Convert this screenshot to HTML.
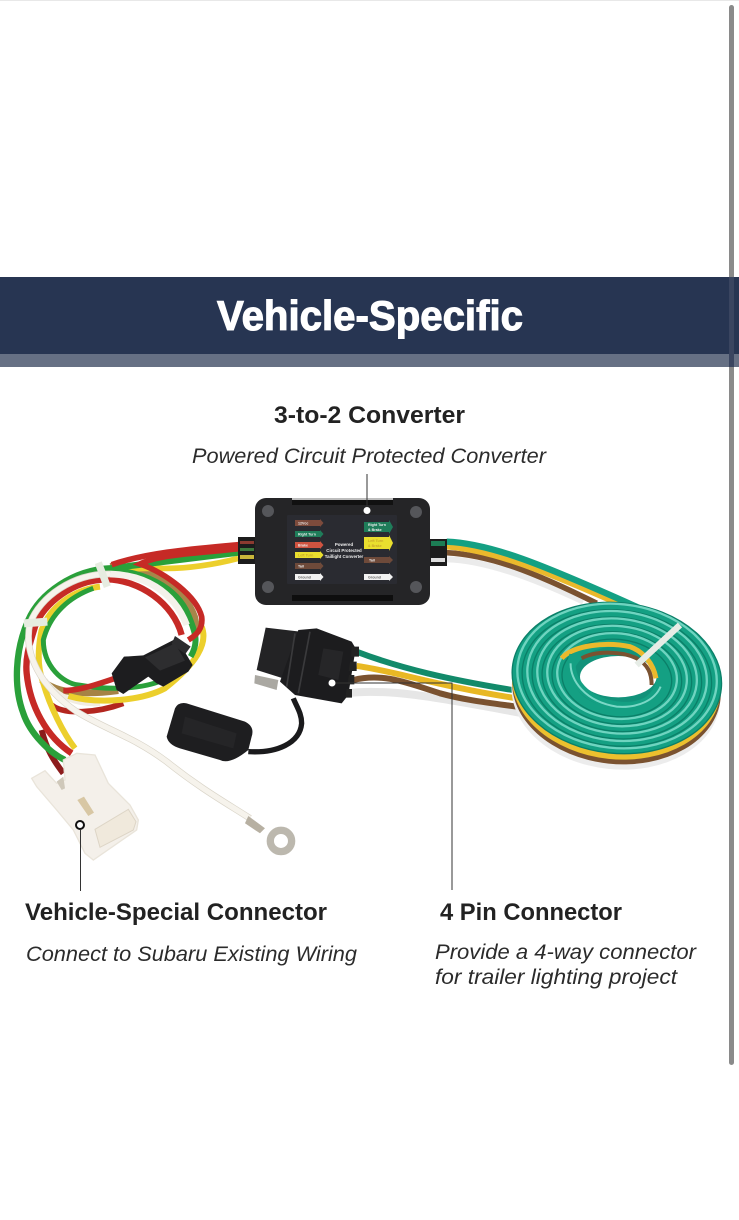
<!DOCTYPE html>
<html><head><meta charset="utf-8"><style>
html,body{margin:0;padding:0;background:#fff;width:739px;height:1220px;overflow:hidden}
svg{display:block}
text{font-family:"Liberation Sans",sans-serif}
.h{font-weight:bold;font-size:24px;fill:#222}
.i{font-style:italic;font-size:21px;fill:#2b2b2b}
.t{font-size:3.6px;fill:#eee;font-weight:bold}
</style></head><body>
<svg width="739" height="1220" viewBox="0 0 739 1220" xmlns="http://www.w3.org/2000/svg">
<rect width="739" height="1220" fill="#fff"/>
<rect width="739" height="1" fill="#e8e8e8"/>
<rect y="277" width="739" height="77" fill="#273552"/>
<rect y="354" width="739" height="13" fill="#667084"/>
<text x="217" y="330" font-size="42" font-weight="bold" fill="#fff" textLength="306" lengthAdjust="spacingAndGlyphs" stroke="#fff" stroke-width="1.1">Vehicle-Specific</text>

<text class="h" x="274" y="423" textLength="191" lengthAdjust="spacingAndGlyphs">3-to-2 Converter</text>
<text class="i" x="192" y="463" textLength="354" lengthAdjust="spacingAndGlyphs">Powered Circuit Protected Converter</text>
<text class="h" x="25" y="920" textLength="302" lengthAdjust="spacingAndGlyphs">Vehicle-Special Connector</text>
<text class="h" x="440" y="920" textLength="182" lengthAdjust="spacingAndGlyphs">4 Pin Connector</text>
<text class="i" x="26" y="961" textLength="331" lengthAdjust="spacingAndGlyphs">Connect to Subaru Existing Wiring</text>
<text class="i" x="435" y="959" textLength="261" lengthAdjust="spacingAndGlyphs">Provide a 4-way connector</text>
<text class="i" x="435" y="984" textLength="242" lengthAdjust="spacingAndGlyphs">for trailer lighting project</text>

<!-- right wires and coil -->
<g transform="translate(340,530) scale(.3333)" fill="none" stroke-linecap="butt">
  <path d="M320,88 C430,90 570,140 730,215" stroke="#ebebeb" stroke-width="18"/>
  <path d="M320,68 C450,75 580,125 770,220" stroke="#7a5230" stroke-width="17"/>
  <path d="M320,50 C450,60 590,112 850,228" stroke="#eab92c" stroke-width="17"/>
  <path d="M320,35 C450,40 600,100 900,235" stroke="#14a083" stroke-width="19"/>
  <path d="M20,490 C150,472 330,510 560,552" stroke="#e6e6e6" stroke-width="24"/>
  <path d="M40,450 C130,428 200,458 300,490 C380,512 460,520 545,532" stroke="#7a5230" stroke-width="18"/>
  <path d="M50,408 C150,420 300,470 530,505" stroke="#e8b824" stroke-width="18"/>
  <path d="M50,365 C180,415 330,450 530,482" stroke="#128a6a" stroke-width="18"/>
  <ellipse cx="832" cy="490" rx="314" ry="228" transform="rotate(6 830 450)" fill="#ececec"/>
  <ellipse cx="832" cy="474" rx="314" ry="228" transform="rotate(6 830 450)" fill="#7a5230"/>
  <ellipse cx="830" cy="460" rx="314" ry="228" transform="rotate(6 830 450)" fill="#ecc02e"/>
  <ellipse cx="830" cy="444" rx="315" ry="226" transform="rotate(6 830 450)" fill="#14a083"/>
  <g transform="rotate(6 830 450)">
    <g stroke="#0b7f68" stroke-width="4">
      <ellipse cx="830" cy="444" rx="315" ry="226"/>
      <ellipse cx="830" cy="444" rx="285" ry="204"/>
      <ellipse cx="830" cy="444" rx="255" ry="182"/>
      <ellipse cx="830" cy="444" rx="225" ry="160"/>
      <ellipse cx="830" cy="444" rx="195" ry="138"/>
      <ellipse cx="830" cy="444" rx="165" ry="116"/>
    </g>
    <g stroke="#6fd4c0" stroke-width="7">
      <ellipse cx="830" cy="438" rx="300" ry="216"/>
      <ellipse cx="830" cy="438" rx="270" ry="194"/>
      <ellipse cx="830" cy="438" rx="240" ry="172"/>
      <ellipse cx="830" cy="438" rx="210" ry="150"/>
      <ellipse cx="830" cy="438" rx="180" ry="128"/>
    </g>
  </g>
  <ellipse cx="825" cy="440" rx="125" ry="90" fill="#12927a"/>
  <ellipse cx="835" cy="440" rx="115" ry="62" fill="#fff"/>
  <path d="M665,385 C700,345 800,335 870,350 C910,365 940,400 948,445" stroke="#eab92c" stroke-width="15"/>
  <path d="M725,385 C770,360 850,365 890,385 C925,405 935,430 935,465" stroke="#7a5230" stroke-width="12"/>
  <path d="M700,375 C680,430 720,510 830,526 C900,535 950,510 968,450" stroke="#14a083" stroke-width="24"/>
  <path d="M692,400 C690,450 735,515 830,530 C895,535 945,510 962,470" stroke="#7ad8c6" stroke-width="6"/>
  <path d="M890,405 L1020,285" stroke="#e6ece6" stroke-width="19"/>
</g>

<!-- left wires -->
<g transform="translate(0,540) scale(.3333)" fill="none" stroke-linecap="butt">
  <path d="M155,495 C190,525 290,520 370,490" stroke="#b3261f" stroke-width="17"/>
  <path d="M190,700 C160,660 140,630 125,570" stroke="#8c1c1c" stroke-width="18"/>
  <path d="M330,78 C430,72 550,130 585,230 C592,260 590,270 585,290" stroke="#a8854a" stroke-width="18"/>
  <path d="M125,420 C170,462 260,465 355,452" stroke="#a58345" stroke-width="20"/>
  <path d="M715,55 C650,72 560,88 480,85 C430,85 390,85 350,90" stroke="#eccf2c" stroke-width="17"/>
  <path d="M135,420 C170,470 230,495 300,490" stroke="#f1ece2" stroke-width="16"/>
  <path d="M605,260 C625,310 590,370 495,445 C430,480 300,495 205,468" stroke="#eccf2c" stroke-width="18"/>
  <path d="M300,140 C220,150 150,200 125,270 C110,340 115,390 130,430 C150,500 190,580 225,625" stroke="#eccf2c" stroke-width="18"/>
  <path d="M280,145 C210,170 150,220 130,300 C130,380 190,430 235,435 C320,450 420,450 490,420" stroke="#2aa03a" stroke-width="15"/>
  <path d="M715,38 C620,50 450,70 330,85 C220,90 120,160 85,240 C45,330 40,440 70,520 C90,580 150,640 195,660" stroke="#2aa03a" stroke-width="19"/>
  <path d="M330,90 C430,95 530,140 565,225 C590,285 595,310 572,350" stroke="#2aa03a" stroke-width="18"/>
  <path d="M715,14 C600,25 450,35 335,74" stroke="#c62a26" stroke-width="17"/>
  <path d="M715,26 C600,40 480,42 420,72 C500,100 590,170 605,230 C610,265 590,285 565,300" stroke="#c62a26" stroke-width="17"/>
  <path d="M545,285 C520,190 420,120 320,118 C220,120 130,190 105,260 C90,310 75,350 80,400 C90,500 140,590 215,640" stroke="#c62a26" stroke-width="19"/>
  <path d="M190,452 C240,452 300,430 345,415" stroke="#c62a26" stroke-width="17"/>
  <path d="M330,102 C430,105 520,150 560,255" stroke="#f4f1ea" stroke-width="20"/>
  <path d="M330,102 C220,100 120,170 90,250 C70,340 120,440 230,515 C320,570 400,590 500,665 C600,745 680,790 750,835" stroke="#d9d4c8" stroke-width="20"/>
  <path d="M330,102 C220,100 120,170 90,250 C70,340 120,440 230,515 C320,570 400,590 500,665 C600,745 680,790 750,835" stroke="#f6f3ec" stroke-width="16"/>
  <path d="M295,68 L322,140" stroke="#e6ece0" stroke-width="22"/>
  <path d="M72,250 L142,245" stroke="#e6ece0" stroke-width="24"/>
  <!-- inline connector -->
  <path d="M335,400 L372,350 L430,346 L530,295 L578,375 L565,395 L490,440 L470,430 L445,410 L370,462 L350,450 Z" fill="#1d1d1f"/>
  <path d="M525,288 L572,320 L556,342 L515,312 Z" fill="#2c2c2e"/>
  <path d="M435,352 L525,310 L555,362 L480,392 Z" fill="#2d2d2f"/>
  <!-- cap -->
  <path d="M745,635 C830,640 900,610 905,550 C905,520 890,500 880,475" stroke="#1a1a1c" stroke-width="16"/>
  <path d="M500,590 L525,505 Q535,485 560,490 L735,545 Q765,560 755,590 L745,630 Q690,675 660,660 L540,625 Q505,615 500,590 Z" fill="#1e1e20"/>
  <path d="M555,530 L710,580 L700,625 L545,580 Z" fill="#252527"/>
  <!-- ring terminal -->
  <path d="M745,828 L795,865 L780,880 L735,850 Z" fill="#b7b0a2"/>
  <circle cx="843" cy="903" r="32" fill="none" stroke="#bcb8ae" stroke-width="22"/>
</g>

<!-- white connector -->
<g transform="translate(20,750) scale(.3333)">
  <path d="M35,85 L75,62 L110,100 L135,90 L130,30 L170,10 L225,15 L265,100 L330,165 L355,210 L350,240 L220,330 L195,310 L160,240 L110,180 L50,110 Z" fill="#f4f0ea" stroke="#e9e4da" stroke-width="4"/>
  <path d="M225,238 L325,178 L348,215 L340,240 L240,292 Z" fill="#f0e9dc" stroke="#ddd5c6" stroke-width="3"/>
  <path d="M110,95 L130,80 L135,115 L125,120 Z" fill="#cfc8ba"/>
  <path d="M172,150 L192,140 L222,188 L205,198 Z" fill="#d8c7a4"/>
</g>

<!-- 4 pin connector -->
<g transform="translate(245,615) scale(.3333)">
  <path d="M30,180 L100,195 L95,225 L28,205 Z" fill="#aaa8a2"/>
  <path d="M62,38 L165,50 L130,195 L35,165 Z" fill="#232325"/>
  <path d="M160,45 L215,40 L320,80 L332,100 L310,240 L290,265 L150,240 L105,200 Z" fill="#1c1c1e"/>
  <path d="M150,55 L125,215 M195,50 L160,235" stroke="#3a3a3c" stroke-width="5" fill="none"/>
  <path d="M235,100 L295,110 L280,195 L220,180 Z" fill="#262628"/>
  <path d="M320,95 h22 v30 h-24 z M315,140 h20 v28 h-24 z M312,180 h16 v28 h-20 z M305,222 h16 v26 h-20 z" fill="#222"/>
</g>

<!-- converter box -->
<rect x="238" y="537" width="18" height="27" fill="#1c1c1c"/>
<rect x="240" y="541" width="14" height="3" fill="#8b3a30"/>
<rect x="240" y="548" width="14" height="3" fill="#3c7a3c"/>
<rect x="240" y="555" width="14" height="4" fill="#c9b63a"/>
<rect x="429" y="539" width="18" height="27" fill="#1c1c1c"/>
<rect x="431" y="541" width="14" height="5" fill="#1c7d54"/>
<rect x="431" y="558" width="14" height="4" fill="#ddd"/>
<rect x="255" y="498" width="175" height="107" rx="11" fill="#252527"/>
<rect x="292" y="498" width="101" height="2" fill="#bdbdbd"/>
<rect x="292" y="500" width="101" height="5" fill="#111"/>
<rect x="292" y="595" width="101" height="6" fill="#0e0e0e"/>
<g fill="#55565a">
  <circle cx="268" cy="511" r="6"/><circle cx="416" cy="512" r="6"/>
  <circle cx="268" cy="587" r="6"/><circle cx="416" cy="587" r="6"/>
</g>
<rect x="287" y="515" width="110" height="69" rx="1" fill="#2a2b31"/>
<polygon points="295,520 320,520 320,519 323.5,523 320,527 320,526 295,526" fill="#7d4b3c"/>
<polygon points="295,531 320,531 320,530 323.5,534 320,538 320,537 295,537" fill="#1f7d5a"/>
<polygon points="295,542 320,542 320,541 323.5,545 320,549 320,548 295,548" fill="#cf5340"/>
<polygon points="295,552 320,552 320,551 323.5,555 320,559 320,558 295,558" fill="#e9de2e"/>
<polygon points="295,563 320,563 320,562 323.5,566 320,570 320,569 295,569" fill="#6e4a3a"/>
<polygon points="295,574 320,574 320,573 323.5,577 320,581 320,580 295,580" fill="#f2f2f2"/>
<polygon points="364,522 389,522 389,520 393,527 389,534 389,532 364,532" fill="#1f7d5a"/>
<polygon points="364,537 389,537 389,535 393,543 389,551 389,549 364,549" fill="#eadf2e"/>
<polygon points="364,557 389,557 389,556 393,560 389,564 389,563 364,563" fill="#6e4a3a"/>
<polygon points="364,574 389,574 389,573 393,577 389,581 389,580 364,580" fill="#f2f2f2"/>
<text class="t" x="298" y="524.500">12Vcc</text>
<text class="t" x="298" y="535.500">Right Turn</text>
<text class="t" x="298" y="546.500">Brake</text>
<text class="t" x="298" y="556.500" style="fill:#c9a82a">Left Turn</text>
<text class="t" x="298" y="567.500">Tail</text>
<text class="t" x="298" y="578.500" style="fill:#666">Ground</text>
<text class="t" x="368" y="526">Right Turn</text>
<text class="t" x="368" y="531">&amp; Brake</text>
<text class="t" x="368" y="542" style="fill:#c9a82a">Left Turn</text>
<text class="t" x="368" y="547" style="fill:#c9a82a">&amp; Brake</text>
<text class="t" x="369" y="561.500">Tail</text>
<text class="t" x="368" y="578.500" style="fill:#666">Ground</text>
<text class="t" x="344" y="546" text-anchor="middle" style="font-size:4.4px">Powered</text>
<text class="t" x="344" y="552" text-anchor="middle" style="font-size:4.4px">Circuit Protected</text>
<text class="t" x="344" y="558" text-anchor="middle" style="font-size:4.4px">Taillight Converter</text>

<!-- callouts -->
<line x1="367" y1="474" x2="367" y2="507" stroke="#333" stroke-width="1"/>
<circle cx="367" cy="510.500" r="3.500" fill="#fff"/>
<polyline points="335,683 452,683 452,890" fill="none" stroke="#333" stroke-width="1"/>
<circle cx="332" cy="683" r="3.500" fill="#fff"/>
<line x1="80.500" y1="830" x2="80.500" y2="891" stroke="#333" stroke-width="1"/>
<circle cx="80" cy="825" r="4" fill="#fff" stroke="#111" stroke-width="2"/>

<!-- scrollbar -->
<rect x="729" y="5" width="5" height="1060" rx="2.500" fill="#8a8a8a"/>
<rect x="729" y="277" width="5" height="90" fill="#3a4560"/>
</svg>
</body></html>
